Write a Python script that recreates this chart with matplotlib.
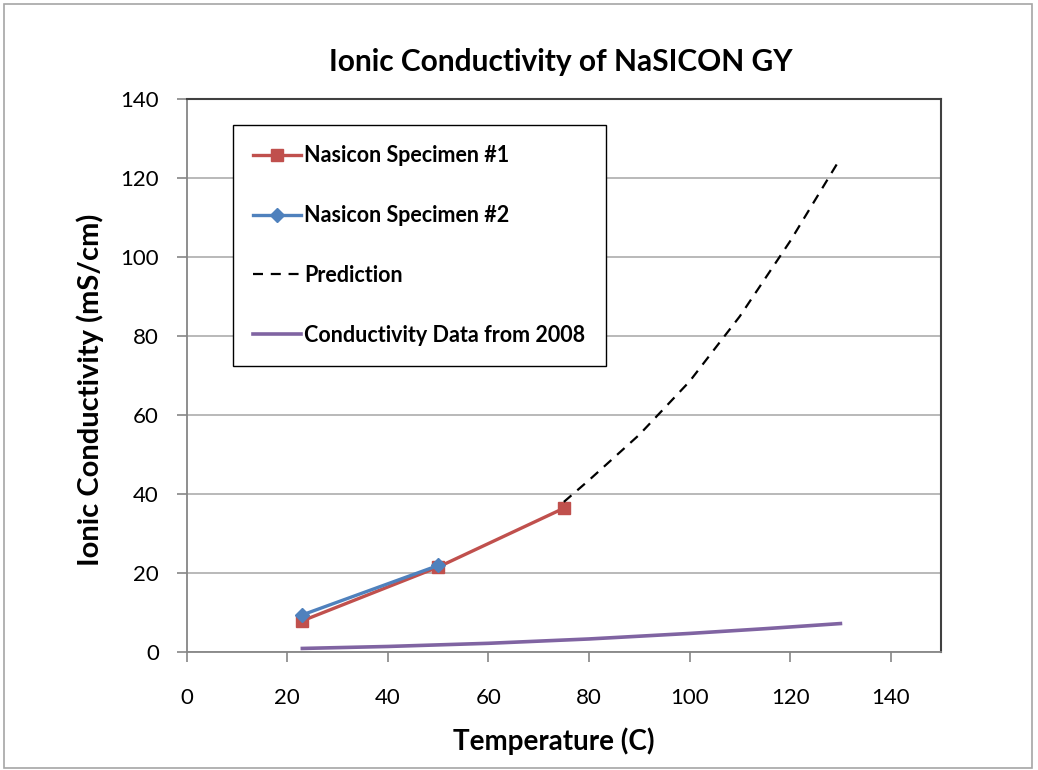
import matplotlib.pyplot as plt
from matplotlib.patches import Rectangle

plt.rcParams['font.family'] = ['Lato', 'DejaVu Sans']

# data
temp_s1 = [23, 50, 75]
cond_s1 = [7.9, 21.5, 36.4]

temp_s2 = [23, 50]
cond_s2 = [9.4, 21.9]

temp_pred = [75, 80, 90, 100, 110, 120, 130]
cond_pred = [38.0, 43.5, 55.0, 68.5, 85.0, 104.0, 125.0]

temp_2008 = [23, 40, 60, 80, 100, 115, 130]
cond_2008 = [0.9, 1.4, 2.2, 3.3, 4.7, 5.9, 7.2]

x_ticks = [0, 20, 40, 60, 80, 100, 120, 140]
y_ticks = [0, 20, 40, 60, 80, 100, 120, 140]

fig = plt.figure(figsize=(10.38, 7.70), dpi=100)
ax = fig.add_axes([186.7 / 1038, 1 - 652 / 770, (941 - 186.7) / 1038, (652 - 99) / 770])

# outer chart border
fig.patches.append(Rectangle((4 / 1038, 2 / 770), 1028 / 1038, 764 / 770,
                             transform=fig.transFigure, fill=False,
                             edgecolor='#a6a6a6', linewidth=1.2))

ax.plot(temp_s1, cond_s1, color='#C0504D', lw=2.4, marker='s', ms=8,
        label='Nasicon Specimen #1', zorder=3)
ax.plot(temp_s2, cond_s2, color='#4F81BD', lw=2.4, marker='D', ms=7,
        label='Nasicon Specimen #2', zorder=4)
ax.plot(temp_pred, cond_pred, color='black', lw=1.6, ls=(0, (4.5, 3.5)),
        label='Prediction', zorder=3)
ax.plot(temp_2008, cond_2008, color='#8064A2', lw=2.6,
        label='Conductivity Data from 2008', zorder=3)

ax.set_xlim(0, 150)
ax.set_ylim(0, 140)
ax.set_xticks(x_ticks)
ax.set_yticks(y_ticks)
ax.yaxis.grid(True, color='#b3b3b3', lw=1.3)
ax.set_axisbelow(True)

ax.spines['left'].set_color('#868686')
ax.spines['bottom'].set_color('#868686')
ax.spines['left'].set_linewidth(1.3)
ax.spines['bottom'].set_linewidth(1.3)
ax.spines['top'].set_color('#404040')
ax.spines['right'].set_color('#404040')
ax.spines['top'].set_linewidth(1.5)
ax.spines['right'].set_linewidth(1.5)

ax.tick_params(axis='both', direction='out', length=7, width=1.2,
               color='#868686', labelsize=16)
ax.tick_params(axis='y', pad=13)
ax.tick_params(axis='x', pad=19)

ax.set_xlabel('Temperature (C)', fontsize=20, fontweight='bold', va='center')
ax.set_ylabel('Ionic Conductivity (mS/cm)', fontsize=21, fontweight='bold', va='center')
ax.xaxis.set_label_coords(0.487, -0.161)
ax.yaxis.set_label_coords(-0.128, 0.474)
fig.text(561 / 1038, 1 - 62 / 770, 'Ionic Conductivity of NaSICON GY',
         fontsize=21.5, fontweight='bold', ha='center', va='center')

leg = ax.legend(loc='upper left', bbox_to_anchor=(0.0614, 0.953),
                borderaxespad=0, fancybox=False, edgecolor='black',
                framealpha=1, prop={'weight': 'bold', 'size': 15.5},
                labelspacing=1.8, handlelength=2.2, handletextpad=0.15,
                borderpad=0.95)
leg.get_frame().set_linewidth(1.0)

plt.savefig('out.png', dpi=100)
